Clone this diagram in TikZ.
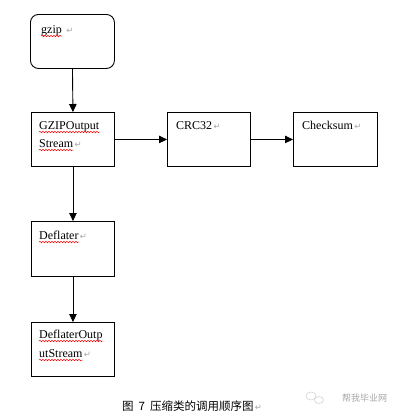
\documentclass[tikz,border=0pt]{standalone}
\usepackage{fontspec}
\setmainfont{Liberation Serif}
\newfontfamily\cjk{Noto Sans CJK SC}
\newfontfamily\symf{DejaVu Sans}
\usetikzlibrary{arrows.meta,decorations.pathmorphing}
\tikzset{
  box/.style={draw, line width=0.9pt, anchor=north west, inner sep=0pt, minimum width=83pt, minimum height=54pt},
  txt/.style={anchor=base west, inner sep=0pt, font=\fontsize{12}{14}\selectfont},
  ret/.style={anchor=base west, inner sep=0pt, xshift=1pt, text=gray!70, font=\symf\fontsize{8.5}{9}\selectfont},
  arr/.style={-{Triangle[length=8pt,width=7.5pt]}, line width=0.9pt},
  squig/.style={red, line width=0.5pt, decorate, decoration={snake, amplitude=0.7pt, segment length=3pt}}
}
\begin{document}
\begin{tikzpicture}[x=1pt,y=-1pt]
\useasboundingbox[fill=white] (0,0) rectangle (401,416);
% boxes
\node[box, rounded corners=8pt, minimum width=84pt] (gzip) at (30,14) {};
\node[box] (gos) at (31,112) {};
\node[box] (crc) at (167,112) {};
\node[box, minimum width=84pt] (chk) at (293,112) {};
\node[box, minimum height=55pt] (defl) at (31,221) {};
\node[box] (dos) at (31,322) {};
% arrows
\draw[arr] (gzip.south) -- (gos.north);
\draw[arr] (gos.east) -- (crc.west);
\draw[arr] (crc.east) -- (chk.west);
\draw[arr] (gos.south) -- (defl.north);
\draw[arr] (defl.south) -- (dos.north);
% texts
\node[txt] (t1) at (41,33) {gzip};
\node[ret, xshift=3pt] (r1) at (t1.base east) {↵};
\node[txt] (t2a) at (39,129) {GZIPOutput};
\node[txt] (t2b) at (39,147) {Stream};
\node[ret] (r2) at (t2b.base east) {↵};
\node[txt] (t3) at (176,129) {CRC32};
\node[ret] (r3) at (t3.base east) {↵};
\node[txt] (t4) at (302,129) {Checksum};
\node[ret] (r4) at (t4.base east) {↵};
\node[txt] (t5) at (39,239) {Deflater};
\node[ret] (r5) at (t5.base east) {↵};
\node[txt] (t6a) at (39,338) {DeflaterOutp};
\node[txt] (t6b) at (39,357) {utStream};
\node[ret] (r6) at (t6b.base east) {↵};
% squiggles
\foreach \w in {t1,t2a,t2b,t5,t6a,t6b}
  \draw[squig] ([yshift=-3pt]\w.base west) -- ([yshift=-3pt]\w.base east);
% caption
\node[anchor=base west, inner sep=0pt, font=\cjk\fontsize{11.5}{13}\selectfont] (cap) at (122,410) {图\hspace{5pt}7\hspace{5pt}压缩类的调用顺序图};
\node[ret] (rc) at (cap.base east) {↵};
% watermark
\draw[gray!35, line width=0.6pt] (311,396) ellipse (5pt and 4pt);
\draw[gray!35, line width=0.6pt] (319,400) ellipse (4.5pt and 3.5pt);
\node[anchor=base west, inner sep=0pt, text=gray!70, font=\cjk\fontsize{9}{10}\selectfont] (wm) at (342,401) {帮我毕业网};
\end{tikzpicture}
\end{document}
